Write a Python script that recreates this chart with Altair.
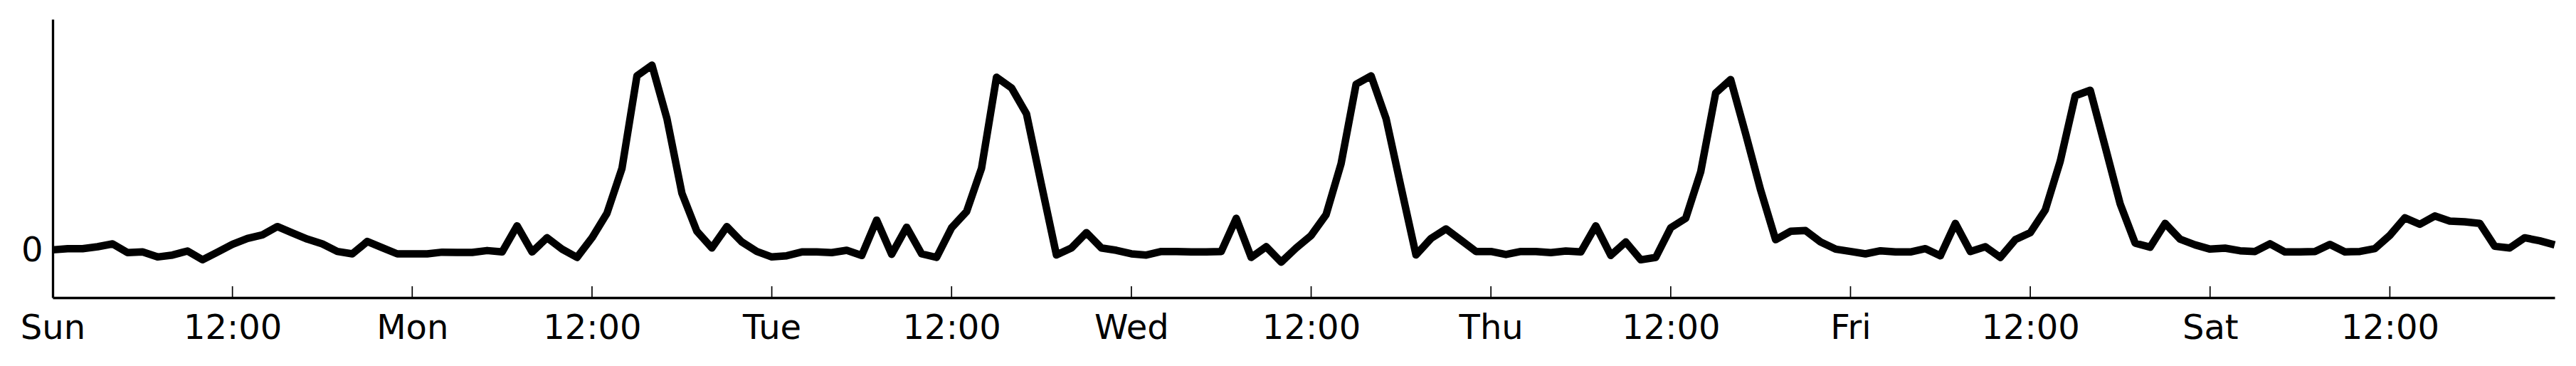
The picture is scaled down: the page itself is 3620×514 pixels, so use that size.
import json
import altair as alt
import pandas as pd

# hourly index over one week (Sun 00:00 .. Sat 23:00)
hours = list(range(168))

values = [
    0.03, 0.056, 0.056, 0.097, 0.159, -0.03, -0.015, -0.123, -0.082, 0.005,
    -0.184, -0.02, 0.148, 0.276, 0.353, 0.532, 0.394, 0.261, 0.159, -0.005,
    -0.056, 0.21, 0.077, -0.056, -0.056, -0.056, -0.02, -0.026, -0.026, 0.015,
    -0.015, 0.547, -0.015, 0.29, 0.046, -0.133, 0.29, 0.82, 1.785, 3.78,
    4.01, 2.86, 1.25, 0.43, 0.07, 0.53, 0.2, -0.005, -0.123, -0.097,
    -0.015, -0.015, -0.03, 0.02, -0.092, 0.67, -0.066, 0.517, -0.056, -0.133,
    0.506, 0.854, 1.79, 3.75, 3.52, 2.96, 1.43, -0.08, 0.07, 0.40,
    0.07, 0.02, -0.056, -0.082, -0.005, -0.005, -0.015, -0.015, -0.005, 0.71,
    -0.133, 0.097, -0.235, 0.07, 0.34, 0.79, 1.89, 3.60, 3.78, 2.86,
    1.38, -0.08, 0.276, 0.48, 0.24, -0.005, -0.005, -0.07, -0.005, -0.005,
    -0.03, 0.005, -0.015, 0.547, -0.09, 0.2, -0.184, -0.133, 0.506, 0.71,
    1.71, 3.41, 3.70, 2.53, 1.32, 0.25, 0.43, 0.445, 0.2, 0.046,
    -0.005, -0.056, 0.01, -0.015, -0.015, 0.056, -0.097, 0.6, -0.005, 0.097,
    -0.133, 0.25, 0.40, 0.89, 1.94, 3.35, 3.47, 2.25, 1.02, 0.174,
    0.087, 0.6, 0.26, 0.138, 0.046, 0.066, 0.01, -0.005, 0.16, -0.015,
    -0.015, -0.005, 0.148, -0.015, -0.005, 0.056, 0.343, 0.72, 0.58, 0.76,
    0.65, 0.634, 0.6, 0.107, 0.07, 0.29, 0.225, 0.138,
]

tick_hours = [0, 12, 24, 36, 48, 60, 72, 84, 96, 108, 120, 132, 144, 156]
day_names = ["Sun", "Mon", "Tue", "Wed", "Thu", "Fri", "Sat"]
half_day_label = "12:00"
y_ticks = [0]

df = pd.DataFrame({"hour": hours, "value": values})
ticks_df = pd.DataFrame({"hour": tick_hours})

W, H = 3516, 391
FONT = "DejaVu Sans"

label_expr = (
    "datum.value % 24 == 0 ? "
    + json.dumps(day_names).replace('"', "'")
    + "[floor(datum.value / 24)] : '" + half_day_label + "'"
)

x_scale = alt.Scale(domain=[0, 167], nice=False, zero=False)
y_scale = alt.Scale(domain=[-1, 5], nice=False, zero=False)

x_axis = alt.Axis(
    values=tick_hours,
    labelExpr=label_expr,
    title=None,
    grid=False,
    ticks=False,
    tickSize=0,
    domainColor="black",
    domainWidth=3.3,
    labelFont=FONT,
    labelFontSize=48,
    labelColor="black",
    labelPadding=19,
    labelFlush=False,
    labelOverlap=False,
)

y_axis = alt.Axis(
    values=y_ticks,
    title=None,
    grid=False,
    ticks=False,
    tickSize=0,
    domainColor="black",
    domainWidth=3.3,
    labelFont=FONT,
    labelFontSize=48,
    labelColor="black",
    labelPadding=14,
    labelFlush=False,
)

line = alt.Chart(df).mark_line(
    color="black", strokeWidth=10.5, strokeJoin="round", strokeCap="butt"
).encode(
    x=alt.X("hour:Q", scale=x_scale, axis=x_axis),
    y=alt.Y("value:Q", scale=y_scale, axis=y_axis),
)

tick_rules = alt.Chart(ticks_df).mark_rule(color="black", strokeWidth=1.7).encode(
    x=alt.X("hour:Q", scale=x_scale, axis=x_axis),
    y=alt.value(H - 16),
    y2=alt.value(H),
)

chart = (
    alt.layer(line, tick_rules)
    .properties(
        width=W,
        height=H,
        padding={"left": 66, "top": 19, "right": 20, "bottom": 70},
        autosize=alt.AutoSizeParams(type="none"),
        background="white",
    )
    .configure_view(stroke=None)
)

chart.save("out.html", embed_options={"renderer": "svg", "actions": False})
